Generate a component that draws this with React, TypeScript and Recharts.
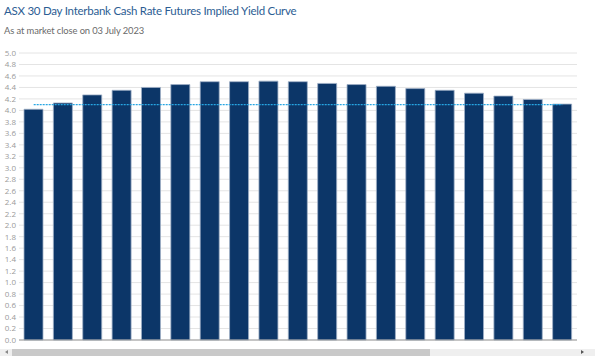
import React from "react";
import { ComposedChart, Bar, Line, XAxis, YAxis, CartesianGrid } from "recharts";

const months = ["Jun-23","Jul-23","Aug-23","Sep-23","Oct-23","Nov-23","Dec-23","Jan-24","Feb-24","Mar-24","Apr-24","May-24","Jun-24","Jul-24","Aug-24","Sep-24","Oct-24","Nov-24","Dec-24"];
const impliedYield = [4.02,4.13,4.27,4.35,4.40,4.45,4.50,4.50,4.51,4.50,4.47,4.45,4.42,4.38,4.35,4.30,4.25,4.19,4.11];
const cashRate = 4.10;
const yTicks = [0,0.2,0.4,0.6,0.8,1.0,1.2,1.4,1.6,1.8,2.0,2.2,2.4,2.6,2.8,3.0,3.2,3.4,3.6,3.8,4.0,4.2,4.4,4.6,4.8,5.0];

const data = months.map((m, i) => ({ month: m, value: impliedYield[i], cash: cashRate }));

export default function App() {
  return (
    <div style={{ position: "fixed", left: 0, top: 0, width: 602, height: 356, background: "#fff", overflow: "hidden", fontFamily: "'Open Sans', sans-serif" }}>
      <div style={{ position: "absolute", left: 4, top: 4, fontSize: 11.5, letterSpacing: -0.25, fontFamily: "Lato, sans-serif", color: "#2c5d93", whiteSpace: "nowrap" }}>
        ASX 30 Day Interbank Cash Rate Futures Implied Yield Curve
      </div>
      <div style={{ position: "absolute", left: 4, top: 25, fontSize: 9.4, letterSpacing: -0.1, fontFamily: "Lato, sans-serif", color: "#6a6a6a", whiteSpace: "nowrap" }}>
        As at market close on 03 July 2023
      </div>
      <div style={{ position: "absolute", left: 0, top: 0 }}>
        <ComposedChart width={602} height={356} data={data} margin={{ top: 53, right: 25, bottom: 4, left: 0 }}>
          <CartesianGrid vertical={false} stroke="#e4e4e4" />
          <XAxis dataKey="month" height={12} interval={0} tickLine={false} axisLine={{ stroke: "#9a9a9a" }} tick={{ fontSize: 8, fill: "#707070" }} tickMargin={2} />
          <YAxis domain={[0, 5]} ticks={yTicks} width={19} tickLine={false} axisLine={false} tickSize={0} tickMargin={3} tick={{ fontSize: 8, fill: "#9a9a9a" }} tickFormatter={(v: number) => v.toFixed(1)} interval={0} />
          <Bar dataKey="value" fill="#0c3668" stroke="#9fb0c6" strokeWidth={0.8} barSize={19} isAnimationActive={false} />
          <Line dataKey="cash" stroke="#27a6e3" strokeWidth={1.2} strokeDasharray="2 1" dot={false} activeDot={false} isAnimationActive={false} />
        </ComposedChart>
      </div>
      <div style={{ position: "absolute", left: 0, top: 349, width: 595, height: 7, background: "#efefef" }} />
      <div style={{ position: "absolute", left: 12, top: 349, width: 418, height: 7, background: "#c9c9c9" }} />
      <div style={{ position: "absolute", left: 5, top: 350, width: 0, height: 0, borderTop: "2.5px solid transparent", borderBottom: "2.5px solid transparent", borderRight: "3px solid #888" }} />
      <div style={{ position: "absolute", left: 581, top: 350, width: 0, height: 0, borderTop: "2.5px solid transparent", borderBottom: "2.5px solid transparent", borderLeft: "3px solid #555" }} />
    </div>
  );
}
